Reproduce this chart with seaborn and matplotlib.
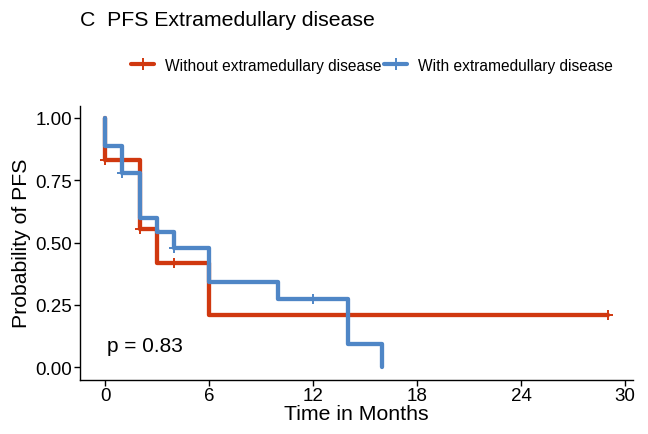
import matplotlib
matplotlib.use("Agg")
import matplotlib.pyplot as plt
import seaborn as sns
import pandas as pd
import numpy as np
from matplotlib.lines import Line2D

# ---- data ----
groups = ["Without extramedullary disease", "With extramedullary disease"]
without_time = [0, 0, 2, 3, 6, 29]
without_surv = [1.0, 0.833, 0.556, 0.417, 0.208, 0.208]
without_cens_time = [0, 2, 4, 29]
without_cens_surv = [0.833, 0.556, 0.417, 0.208]

with_time = [0, 0, 1, 2, 3, 4, 6, 10, 14, 16]
with_surv = [1.0, 0.889, 0.778, 0.600, 0.544, 0.478, 0.343, 0.275, 0.092, 0.0]
with_cens_time = [1, 4, 12]
with_cens_surv = [0.778, 0.478, 0.275]

x_ticks = [0, 6, 12, 18, 24, 30]
y_ticks = [0.00, 0.25, 0.50, 0.75, 1.00]
p_text = "p = 0.83"

colors = {"Without extramedullary disease": "#D0380F",
          "With extramedullary disease": "#4F86C6"}

curves = pd.DataFrame({
    "time": without_time + with_time,
    "surv": without_surv + with_surv,
    "group": [groups[0]] * len(without_time) + [groups[1]] * len(with_time),
})
cens = pd.DataFrame({
    "time": without_cens_time + with_cens_time,
    "surv": without_cens_surv + with_cens_surv,
    "group": [groups[0]] * len(without_cens_time) + [groups[1]] * len(with_cens_time),
})

sns.set_style("white")
plt.rcParams["font.family"] = ["Liberation Sans", "DejaVu Sans"]
plt.rcParams["text.color"] = "black"
plt.rcParams["axes.labelcolor"] = "black"

fig = plt.figure(figsize=(6.48, 4.35), dpi=100)
ax = fig.add_axes([80 / 648, 1 - 380.5 / 435, (632.8 - 80) / 648, (380.5 - 106.5) / 435])

for g in groups:
    sub = curves[curves["group"] == g]
    sns.lineplot(data=sub, x="time", y="surv", ax=ax, color=colors[g],
                 drawstyle="steps-post", linewidth=3.1, estimator=None,
                 sort=False, legend=False)
for g in groups:
    sub = cens[cens["group"] == g]
    sns.scatterplot(data=sub, x="time", y="surv", ax=ax, color=colors[g],
                    marker="+", s=60, linewidth=1.4, legend=False, zorder=5)

ax.set_xlim(-1.45, 30.45)
ax.set_ylim(-0.05, 1.05)
ax.set_xticks(x_ticks)
ax.set_xticklabels([str(t) for t in x_ticks])
ax.set_yticks(y_ticks)
ax.set_yticklabels([f"{t:.2f}" for t in y_ticks])
ax.tick_params(axis="both", labelsize=13.5, colors="black", labelcolor="black",
               length=4, width=1, direction="out", pad=1.5, bottom=True, left=True)
for s in ["top", "right"]:
    ax.spines[s].set_visible(False)
for s in ["left", "bottom"]:
    ax.spines[s].set_color("black")
    ax.spines[s].set_linewidth(1.0)
ax.set_xlabel("Time in Months", fontsize=15.3, labelpad=0, color="black")
ax.set_ylabel("Probability of PFS", fontsize=15.3, labelpad=3, color="black")

ax.text(0.1, 0.088, p_text, fontsize=15.0, ha="left", va="center", color="black")

fig.text(80 / 648, 1 - 21 / 435, "C  PFS Extramedullary disease", fontsize=15.3,
         ha="left", va="center", color="black")

handles = [Line2D([0], [0], color=colors[g], linewidth=3.0, marker="+",
                  markersize=8, markeredgewidth=1.4) for g in groups]
fig.legend(handles, groups, loc="center", bbox_to_anchor=(372 / 648, 1 - 66 / 435),
           ncol=2, frameon=False, fontsize=11.2, handlelength=1.5,
           handletextpad=0.7, columnspacing=0.15, labelcolor="black")

fig.savefig("out.png", dpi=100)
